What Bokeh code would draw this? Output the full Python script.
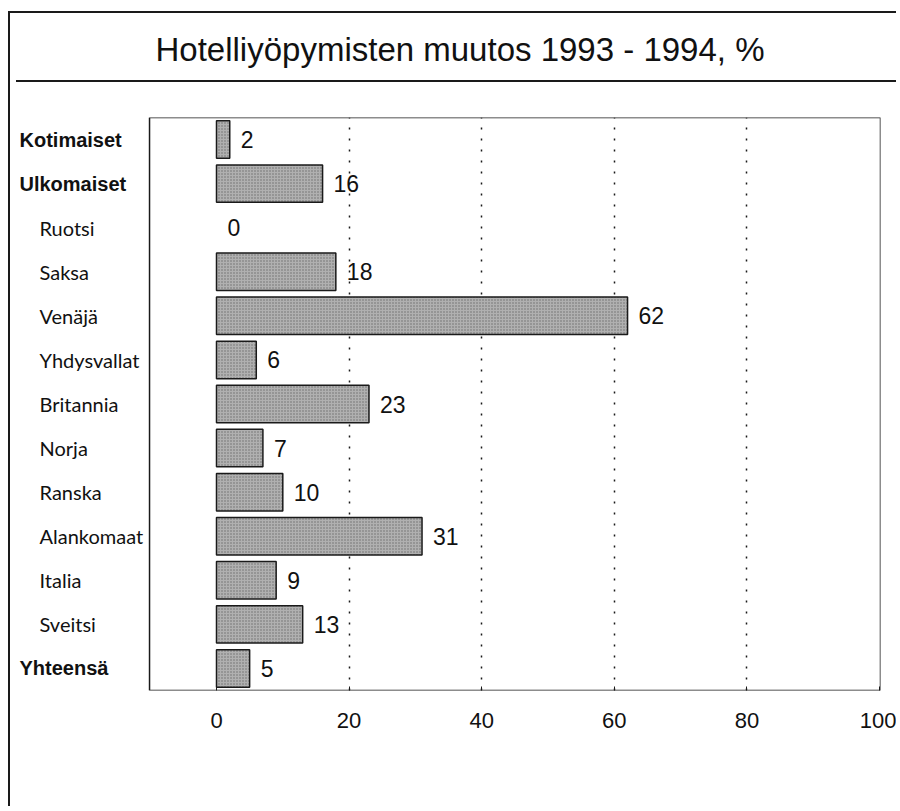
from bokeh.plotting import figure
from bokeh.models import FactorRange, Range1d, FixedTicker, ColumnDataSource, BoxAnnotation, Title
from bokeh.core.properties import value
from bokeh.embed import file_html
from bokeh.resources import INLINE

# ---- data ----
categories = ["Kotimaiset", "Ulkomaiset", "Ruotsi", "Saksa", "Venäjä", "Yhdysvallat",
              "Britannia", "Norja", "Ranska", "Alankomaat", "Italia", "Sveitsi", "Yhteensä"]
values = [2, 16, 0, 18, 62, 6, 23, 7, 10, 31, 9, 13, 5]
group_labels = ["Kotimaiset", "Ulkomaiset", "Yhteensä"]
x_ticks = [0, 20, 40, 60, 80, 100]
grid_ticks = [20, 40, 60, 80]
title_text = "Hotelliyöpymisten muutos 1993 - 1994, %"

SANS = "Liberation Sans"
LINE = "#1a1a1a"
X_START, X_END = -31.07, 100.15     # view range (includes label gutter)
BOX_LEFT = -10.1                    # left edge of the inner plot box

p = figure(width=888, height=795, title=None,
           y_range=FactorRange(factors=list(reversed(categories))),
           x_range=Range1d(X_START, X_END),
           output_backend="svg", toolbar_location=None,
           min_border_left=0, min_border_right=18,
           min_border_top=104, min_border_bottom=118)

p.styles = {
    "margin-left": "8px",
    "margin-top": "11px",
    "border-left": f"2px solid {LINE}",
    "border-top": f"2px solid {LINE}",
    "background-color": "white",
    "background-image": f"linear-gradient({LINE}, {LINE})",
    "background-size": "calc(100% - 6px) 2px",
    "background-position": "6px 67px",
    "background-repeat": "no-repeat",
}
p.border_fill_color = None
p.background_fill_color = "white"
p.outline_line_color = None

# title (a small spacer panel keeps it away from the plot box)
p.add_layout(Title(text=" ", text_font_size="10px", standoff=37), "above")
p.add_layout(Title(text=title_text, align="left", offset=145, standoff=0,
                   text_font=SANS, text_font_style="normal", text_font_size="33px",
                   text_color="#111111"), "above")

src = ColumnDataSource(dict(cat=categories, val=values, txt=[str(v) for v in values],
                            la=[0.0 if v == 0 else 1.0 for v in values]))

p.hbar(y="cat", left=0, right="val", height=0.85, source=src,
       fill_color="#b0b0b0", line_color=LINE, line_width=1.5, line_alpha="la",
       hatch_pattern="dot", hatch_scale=3, hatch_color="#6a6a6a", hatch_weight=1)

p.text(x="val", y="cat", text="txt", source=src, x_offset=11,
       text_align="left", text_baseline="middle",
       text_font=value(SANS), text_font_size="23px", text_color="#111111")

# inner plot box
p.add_layout(BoxAnnotation(left=BOX_LEFT, fill_color=None, line_color=LINE,
                           line_alpha=1.0, line_width=1.5))

# grid
p.ygrid.visible = False
p.xgrid.ticker = FixedTicker(ticks=grid_ticks)
p.xgrid.grid_line_color = LINE
p.xgrid.grid_line_dash = "2 9"
p.xgrid.grid_line_width = 1.5

# axes
p.yaxis.visible = False
ax = p.xaxis[0]
ax.ticker = FixedTicker(ticks=x_ticks)
ax.axis_line_color = None
ax.major_tick_in = 4
ax.major_tick_out = 0
ax.major_tick_line_color = LINE
ax.minor_tick_line_color = None
ax.major_label_standoff = 22
ax.major_label_text_font = SANS
ax.major_label_text_font_size = "22px"
ax.major_label_text_color = "#111111"

# category labels (inside the gutter of the view range)
grp = [c for c in categories if c in group_labels]
sub = [c for c in categories if c not in group_labels]
p.text(x=[X_START] * len(grp), y=grp, text=grp, x_offset=9,
       text_align="left", text_baseline="middle",
       text_font=value(SANS), text_font_style="bold",
       text_font_size="20px", text_color="#111111")
p.text(x=[X_START] * len(sub), y=sub, text=sub, x_offset=29,
       text_align="left", text_baseline="middle",
       text_font=value("Lato"), text_font_size="20px", text_color="#111111")

open("out.html", "w").write(file_html(p, INLINE))
